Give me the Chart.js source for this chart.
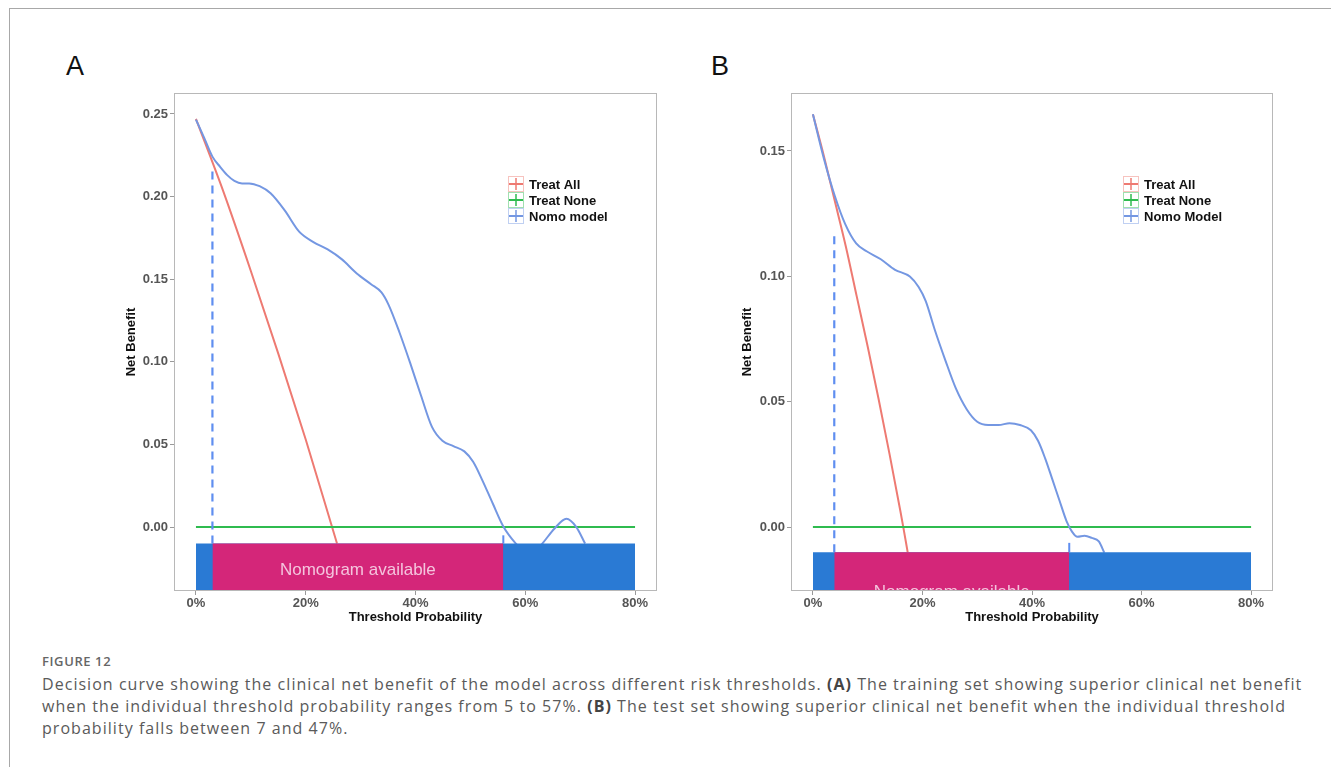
<!DOCTYPE html>
<html>
<head>
<meta charset="utf-8">
<script src="https://cdn.jsdelivr.net/npm/chart.js@4.4.1/dist/chart.umd.min.js"></script>
<style>
  html, body { margin: 0; padding: 0; background: #fff; }
  body { width: 1331px; height: 767px; position: relative; overflow: hidden; font-family: "Liberation Sans", Arial, sans-serif; }
  .frame { position: absolute; left: 9px; top: 8px; right: -2px; bottom: -2px; border-top: 1px solid #a8a8a8; border-left: 1px solid #a8a8a8; }
  .panel { position: absolute; top: 80px; width: 570px; height: 560px; }
  .letter { position: absolute; font-family: "Liberation Sans", Arial, sans-serif; font-size: 27px; color: #111; line-height: 1; }
  .caption { position: absolute; left: 42px; top: 651px; font-family: "Open Sans", sans-serif; color: #5a5a5a; }
  .caption .fig { font-size: 13px; font-weight: 600; color: #666; letter-spacing: 0.6px; line-height: 20px; margin-bottom: 2px; }
  .caption .line { font-size: 16px; letter-spacing: 1.04px; line-height: 22px; white-space: nowrap; }
  .caption b { color: #444; }
</style>
</head>
<body>
<div class="frame"></div>
<div class="letter" style="left:66px; top:53px;">A</div>
<div class="letter" style="left:711px; top:53px;">B</div>
<div class="panel" style="left:100px;"><canvas id="chartA"></canvas></div>
<div class="panel" style="left:720px;"><canvas id="chartB"></canvas></div>
<div class="caption">
  <div class="fig">FIGURE 12</div>
  <div class="line">Decision curve showing the clinical net benefit of the model across different risk thresholds. <b>(A)</b> The training set showing superior clinical net benefit</div>
  <div class="line">when the individual threshold probability ranges from 5 to 57%. <b>(B)</b> The test set showing superior clinical net benefit when the individual threshold</div>
  <div class="line">probability falls between 7 and 47%.</div>
</div>
<script>
// ---------- data ----------
const xTickValues = [0, 20, 40, 60, 80];
const yTicksA = [0.00, 0.05, 0.10, 0.15, 0.20, 0.25];
const yTicksB = [0.00, 0.05, 0.10, 0.15];
const legendLabelsA = ["Treat All", "Treat None", "Nomo model"];
const legendLabelsB = ["Treat All", "Treat None", "Nomo Model"];

// Panel A
const treatAllA_x = [0, 5, 10, 15, 20, 24.8, 25.7];
const treatAllA_y = [0.247, 0.203, 0.155, 0.105, 0.053, 0.000, -0.010];
const treatNoneA_x = [0, 80];
const treatNoneA_y = [0, 0];
const nomoA_x = [0, 1.5, 3, 4.4, 5.7, 7, 8.4, 9.7, 11.6, 13.6, 16.2, 18.8, 21.4, 24, 26.6, 29.3, 31.9, 33.8, 35.1, 37.1, 39.1, 41, 43, 44.9, 46.9, 48.9, 50.5, 52.1, 54.1, 56, 58.3, 60.7, 63.1, 65.3, 67.5, 69.3, 70.9];
const nomoA_y = [0.2466, 0.2355, 0.2242, 0.218, 0.213, 0.2095, 0.208, 0.208, 0.2063, 0.202, 0.1915, 0.1788, 0.1725, 0.168, 0.162, 0.1535, 0.147, 0.142, 0.1345, 0.1176, 0.0986, 0.0796, 0.0606, 0.0522, 0.049, 0.0458, 0.0395, 0.0289, 0.0141, 0.0004, -0.0101, -0.018, -0.0100, -0.001, 0.005, 0.000, -0.010];
const cutoffA_low = 3;      // dashed line / start of "available" band
const cutoffA_high = 56;    // end of "available" band
const dashTopA = 0.2185;
const tickTopA = -0.005;
const bandTopA = -0.010;
const yMinA = -0.0387, yMaxA = 0.2627;

// Panel B
const treatAllB_x = [0, 2, 4, 6, 8, 10, 12, 14, 16, 16.5, 17.3];
const treatAllB_y = [0.1646, 0.148, 0.130, 0.112, 0.092, 0.072, 0.051, 0.029, 0.006, 0.000, -0.010];
const treatNoneB_x = [0, 80];
const treatNoneB_y = [0, 0];
const nomoB_x = [0, 2, 4, 5.9, 7.9, 9.8, 12.4, 15, 17.7, 19.3, 20.6, 22.2, 24.2, 26.1, 28.1, 30, 32, 33.9, 35.9, 37.8, 39.8, 41.1, 42.4, 43.7, 45, 46.3, 47.3, 48.3, 49.6, 50.9, 52.2, 53.2];
const nomoB_y = [0.1646, 0.147, 0.132, 0.1208, 0.1131, 0.110, 0.1068, 0.1026, 0.0999, 0.0957, 0.0901, 0.079, 0.0664, 0.0553, 0.0469, 0.042, 0.0407, 0.0407, 0.0414, 0.0407, 0.0386, 0.0344, 0.0274, 0.0191, 0.0107, 0.0024, -0.0018, -0.0039, -0.0035, -0.0043, -0.0057, -0.0102];
const cutoffB_low = 3.9;
const cutoffB_high = 46.8;
const dashTopB = 0.1166;
const tickTopB = -0.0063;
const bandTopB = -0.010;
const yMinB = -0.0255, yMaxB = 0.1731;

const bandLabel = "Nomogram available";

// ---------- styling ----------
const FONT = "'Liberation Sans', Arial, sans-serif";
const C_ALL = "#ee7a72";
const C_NONE = "#2fbb4f";
const C_NOMO = "#7497e2";
const C_DASH = "#5f8ef0";
const C_BAND = "#2a7ad4";
const C_AVAIL = "#d42679";
const C_TEXT_BAND = "#f4c4dd";

function pts(xs, ys) { return xs.map((x, i) => ({ x: x, y: ys[i] })); }

function buildDatasets(p) {
  return [
    { label: "avail", data: pts([p.lo, p.hi], [p.bandTop, p.bandTop]), borderWidth: 0, pointRadius: 0,
      backgroundColor: C_AVAIL, borderColor: C_AVAIL, fill: { value: p.yMin }, order: 0, tension: 0 },
    { label: "band", data: pts([0, 80], [p.bandTop, p.bandTop]), borderWidth: 0, pointRadius: 0,
      backgroundColor: C_BAND, borderColor: C_BAND, fill: { value: p.yMin }, order: 1, tension: 0 },
    { label: "tick", data: pts([p.hi, p.hi], [p.bandTop, p.tickTop]), borderWidth: 2, pointRadius: 0,
      borderColor: C_DASH, fill: false, order: 2, tension: 0 },
    { label: "dash", data: pts([p.lo, p.lo], [p.bandTop, p.dashTop]), borderWidth: 2.2, pointRadius: 0,
      borderColor: C_DASH, borderDash: [8, 6], fill: false, order: 3, tension: 0 },
    { label: "Nomo", data: pts(p.nomoX, p.nomoY), borderWidth: 2, pointRadius: 0,
      borderColor: C_NOMO, fill: false, order: 4, cubicInterpolationMode: "monotone" },
    { label: "Treat None", data: pts(p.noneX, p.noneY), borderWidth: 2, pointRadius: 0,
      borderColor: C_NONE, fill: false, order: 5, tension: 0 },
    { label: "Treat All", data: pts(p.allX, p.allY), borderWidth: 2, pointRadius: 0,
      borderColor: C_ALL, fill: false, order: 6, cubicInterpolationMode: "monotone" }
  ];
}

const framePlugin = {
  id: "frameAndExtras",
  afterDatasetsDraw(chart, args, opts) {
    const ctx = chart.ctx, a = chart.chartArea;
    const xs = chart.scales.x, ys = chart.scales.y;
    // band label (clipped to plot area)
    ctx.save();
    ctx.beginPath(); ctx.rect(a.left, a.top, a.right - a.left, a.bottom - a.top); ctx.clip();
    ctx.fillStyle = C_TEXT_BAND;
    ctx.font = "17px " + FONT;
    ctx.textAlign = "center"; ctx.textBaseline = "middle";
    ctx.fillText(bandLabel, xs.getPixelForValue((opts.lo + opts.hi) / 2), ys.getPixelForValue(opts.labelY));
    ctx.restore();
    // frame
    ctx.save();
    ctx.strokeStyle = "#b8b8b8"; ctx.lineWidth = 1;
    ctx.strokeRect(Math.round(a.left) + 0.5, Math.round(a.top) + 0.5, Math.round(a.right - a.left) - 1, Math.round(a.bottom - a.top) - 1);
    ctx.restore();
    // legend
    ctx.save();
    const colors = [C_ALL, C_NONE, C_NOMO];
    opts.legend.labels.forEach((lab, i) => {
      const cy = opts.legend.y + i * 16, cx = opts.legend.kx;
      ctx.globalAlpha = 0.45;
      ctx.strokeStyle = colors[i]; ctx.lineWidth = 1;
      ctx.strokeRect(cx - 7.5, cy - 7.5, 15, 15);
      ctx.globalAlpha = 1;
      ctx.lineWidth = 2;
      ctx.beginPath(); ctx.moveTo(cx - 7, cy); ctx.lineTo(cx + 7, cy); ctx.stroke();
      ctx.lineWidth = 1.5;
      ctx.beginPath(); ctx.moveTo(cx, cy - 6); ctx.lineTo(cx, cy + 6); ctx.stroke();
      ctx.fillStyle = "#111";
      ctx.font = "bold 13px " + FONT;
      ctx.textAlign = "left"; ctx.textBaseline = "middle";
      ctx.fillText(lab, opts.legend.tx, cy + 1);
    });
    ctx.restore();
  }
};

function makeChart(id, p) {
  return new Chart(document.getElementById(id), {
    type: "line",
    data: { datasets: buildDatasets(p) },
    plugins: [framePlugin],
    options: {
      responsive: true, maintainAspectRatio: false, animation: false,
      layout: { padding: { left: 0, top: 13, right: p.padRight, bottom: 0 } },
      plugins: {
        legend: { display: false }, tooltip: { enabled: false },
        frameAndExtras: { lo: p.lo, hi: p.hi, labelY: -0.026,
          legend: { labels: p.legendLabels, kx: p.legKx, tx: p.legTx, y: 104 } }
      },
      scales: {
        x: {
          type: "linear", min: -4, max: 84,
          afterBuildTicks: (s) => { s.ticks = xTickValues.map(v => ({ value: v })); },
          afterFit: (s) => { s.height = 49; },
          grid: { display: true, drawOnChartArea: false, drawTicks: true, tickLength: 4, color: "#9a9a9a" },
          border: { display: false },
          ticks: { color: "#555", font: { family: FONT, size: 13, weight: "bold" }, padding: 1,
                   maxRotation: 0, callback: (v) => v + "%" },
          title: { display: true, text: "Threshold Probability", color: "#111",
                   font: { family: FONT, size: 13, weight: "bold" }, padding: { top: 0, bottom: 15 } }
        },
        y: {
          type: "linear", min: p.yMin, max: p.yMax,
          afterBuildTicks: (s) => { s.ticks = p.yTicks.map(v => ({ value: v })); },
          afterFit: (s) => { s.width = p.yWidth; },
          grid: { display: true, drawOnChartArea: false, drawTicks: true, tickLength: 4, color: "#9a9a9a" },
          border: { display: false },
          ticks: { color: "#555", font: { family: FONT, size: 13, weight: "bold" }, padding: 2,
                   callback: (v) => Number(v).toFixed(2) },
          title: { display: true, text: "Net Benefit", color: "#111",
                   font: { family: FONT, size: 13, weight: "bold" }, padding: { top: p.yTitlePad, bottom: 0 } }
        }
      }
    }
  });
}

makeChart("chartA", {
  allX: treatAllA_x, allY: treatAllA_y, noneX: treatNoneA_x, noneY: treatNoneA_y,
  nomoX: nomoA_x, nomoY: nomoA_y, lo: cutoffA_low, hi: cutoffA_high,
  dashTop: dashTopA, tickTop: tickTopA, bandTop: bandTopA, yMin: yMinA, yMax: yMaxA,
  yTicks: yTicksA, yWidth: 74, padRight: 13, yTitlePad: 24,
  legendLabels: legendLabelsA, legKx: 416, legTx: 429
});
makeChart("chartB", {
  allX: treatAllB_x, allY: treatAllB_y, noneX: treatNoneB_x, noneY: treatNoneB_y,
  nomoX: nomoB_x, nomoY: nomoB_y, lo: cutoffB_low, hi: cutoffB_high,
  dashTop: dashTopB, tickTop: tickTopB, bandTop: bandTopB, yMin: yMinB, yMax: yMaxB,
  yTicks: yTicksB, yWidth: 71, padRight: 17, yTitlePad: 20,
  legendLabels: legendLabelsB, legKx: 411, legTx: 424
});
</script>
</body>
</html>
